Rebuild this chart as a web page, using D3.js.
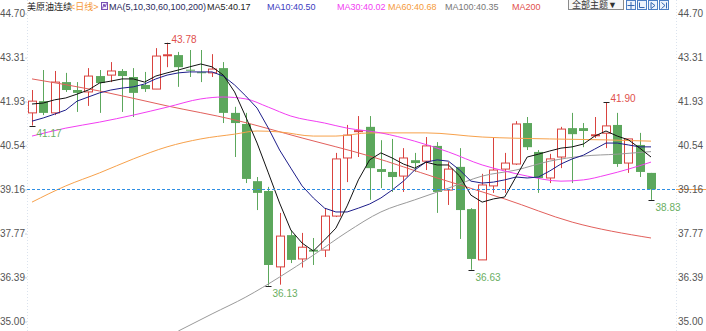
<!DOCTYPE html>
<html>
<head>
<meta charset="utf-8">
<script src="https://cdn.jsdelivr.net/npm/d3@7"></script>
<style>
  body { margin: 0; background: #fff; }
  svg { display: block; font-family: "Liberation Sans", "Noto Sans CJK SC", sans-serif; }
</style>
</head>
<body>
<svg id="chart" width="706" height="331"></svg>
<script>
const SVG = d3.select("#chart");
const WIDTH = 706;
const HEIGHT = 331;
const PLOT = { left: 27, right: 676, top: 0, bottom: 331 };

// candle values, one per session
const OPEN = [41.57, 41.94, 41.57, 42.54, 42.29, 42.23, 42.73, 42.76, 42.89, 42.70, 42.45, 42.32, 43.38, 43.39, 42.93, 42.85, 42.83, 42.98, 41.57, 41.22, 39.42, 39.11, 36.72, 37.72, 36.97, 37.26, 37.25, 38.32, 40.15, 40.99, 41.13, 39.80, 39.71, 39.58, 40.08, 40.05, 40.53, 39.14, 39.87, 38.54, 36.94, 39.27, 39.80, 39.96, 41.25, 40.34, 39.52, 40.18, 41.09, 41.09, 40.86, 40.93, 41.19, 39.99, 40.56, 39.68];
const HIGH = [42.29, 42.92, 42.89, 42.83, 42.54, 42.98, 42.92, 43.17, 42.95, 42.98, 42.86, 43.61, 43.78, 43.49, 43.55, 43.55, 43.42, 43.17, 41.76, 41.57, 39.55, 39.24, 38.42, 37.88, 37.79, 37.63, 38.57, 40.31, 41.19, 41.47, 41.47, 40.71, 40.75, 40.46, 40.31, 40.81, 40.65, 40.02, 40.46, 38.57, 39.65, 40.81, 40.31, 41.31, 41.44, 40.40, 40.28, 41.13, 41.57, 41.25, 41.44, 41.90, 41.57, 40.75, 40.94, 39.68];
const LOW = [41.17, 41.50, 41.50, 42.23, 41.60, 41.79, 41.57, 42.54, 41.60, 41.44, 42.23, 42.32, 43.01, 42.39, 42.70, 42.54, 42.70, 41.25, 40.18, 39.36, 38.51, 36.13, 36.16, 36.84, 36.70, 36.78, 37.03, 38.29, 39.39, 40.18, 38.83, 39.20, 39.08, 39.08, 39.71, 39.77, 38.42, 38.67, 37.60, 36.63, 36.94, 39.05, 39.05, 39.93, 40.40, 39.05, 39.36, 39.83, 39.36, 40.49, 40.78, 40.46, 39.87, 39.68, 39.55, 38.83];
const CLOSE = [41.94, 41.57, 42.54, 42.29, 42.20, 42.73, 42.51, 42.89, 42.73, 42.20, 42.32, 43.36, 43.40, 43.01, 42.91, 42.83, 42.95, 41.57, 41.25, 39.49, 39.05, 36.78, 37.69, 36.94, 37.34, 37.20, 38.32, 40.12, 40.87, 41.01, 39.83, 39.71, 39.55, 40.15, 39.99, 40.53, 39.08, 39.80, 38.51, 36.97, 39.30, 39.77, 39.99, 41.22, 40.49, 39.52, 40.12, 41.06, 40.90, 41.00, 40.88, 41.16, 39.96, 40.75, 39.71, 39.16];

// moving averages
const MA5 = [41.85, 41.88, 41.98, 42.04, 42.16, 42.29, 42.51, 42.57, 42.64, 42.64, 42.54, 42.73, 42.83, 42.92, 43.02, 43.11, 43.02, 42.76, 42.23, 41.44, 40.62, 39.68, 38.73, 37.88, 37.47, 37.22, 37.57, 37.94, 38.64, 39.46, 40.09, 40.31, 40.15, 39.96, 39.83, 40.02, 39.93, 39.93, 39.58, 38.98, 38.76, 38.86, 38.92, 39.55, 40.18, 40.27, 40.37, 40.46, 40.50, 40.59, 40.84, 41.00, 40.84, 40.72, 40.46, 40.18];
const MA10 = [41.31, 41.41, 41.53, 41.66, 41.94, 42.07, 42.20, 42.29, 42.35, 42.39, 42.48, 42.64, 42.76, 42.83, 42.86, 42.86, 42.86, 42.73, 42.45, 42.10, 41.72, 41.09, 40.40, 39.83, 39.27, 38.89, 38.57, 38.45, 38.45, 38.57, 38.70, 38.89, 39.14, 39.42, 39.77, 40.02, 40.09, 40.05, 39.77, 39.42, 39.36, 39.39, 39.46, 39.55, 39.52, 39.55, 39.74, 39.96, 40.12, 40.24, 40.43, 40.62, 40.62, 40.56, 40.50, 40.50];
const MA30_IDX = [0, 3, 6, 9, 12, 15, 17, 19, 21, 23, 26, 28, 31, 34, 37, 40, 42, 44, 47, 49, 51, 53, 55];
const MA30 = [40.84, 41.09, 41.28, 41.50, 41.75, 42.01, 42.07, 42.01, 41.75, 41.47, 41.25, 41.09, 40.94, 40.68, 40.34, 39.93, 39.74, 39.58, 39.42, 39.46, 39.61, 39.80, 40.02];
const MA60_IDX = [0, 3, 6, 9, 12, 15, 18, 20, 22, 25, 27, 30, 35, 40, 46, 51, 55];
const MA60 = [38.76, 39.27, 39.68, 40.12, 40.50, 40.75, 40.90, 41.00, 40.97, 40.84, 40.84, 40.94, 40.94, 40.81, 40.75, 40.72, 40.68];
const MA100_IDX = [13, 16, 19, 22, 25, 28, 31, 34, 37, 40, 43, 46, 49, 52, 55];
const MA100 = [34.70, 35.24, 35.77, 36.40, 37.09, 37.82, 38.45, 38.83, 39.20, 39.58, 39.77, 40.05, 40.21, 40.27, 40.35];
const MA200_IDX = [0, 6, 12, 18, 24, 30, 36, 42, 48, 55];
const MA200 = [42.64, 42.26, 41.79, 41.35, 40.78, 40.21, 39.52, 38.86, 38.13, 37.63];

// legend read-outs as printed in the header
const MA_NAMES = ["MA5", "MA10", "MA30", "MA60", "MA100", "MA200"];
const MA_VALUES = [40.17, 40.50, 40.02, 40.68, 40.35, null];

const Y_TICKS = [44.70, 43.31, 41.93, 40.54, 39.16, 37.77, 36.39, 35.00];
const HIGH_MARKS = [12, 51];
const LOW_MARKS = [0, 21, 39, 55];
const LAST = CLOSE[CLOSE.length - 1];

const RED = "#d9433f";
const GREEN = "#5ca75c";

const SCALE_X = d3.scaleLinear().domain([0, OPEN.length - 1]).range([32, 651]);
const SCALE_Y = d3.scaleLinear().domain([35, 44.70]).range([321.5, 13.5]);
const px = v => Math.round(v) + 0.5;

SVG.append("rect").attr("width", WIDTH).attr("height", HEIGHT).attr("fill", "#fff");

SVG.append("defs").append("clipPath").attr("id", "plot")
  .append("rect")
  .attr("x", PLOT.left).attr("y", PLOT.top)
  .attr("width", PLOT.right - PLOT.left).attr("height", PLOT.bottom - PLOT.top);

// frame lines
[PLOT.left, PLOT.right].forEach(x => {
  SVG.append("line")
    .attr("x1", x + 0.5).attr("x2", x + 0.5)
    .attr("y1", 0).attr("y2", HEIGHT)
    .attr("stroke", "#dbe3ee")
    .attr("stroke-dasharray", "1,2");
});

// axes
const LEFT_AXIS = SVG.append("g")
  .attr("transform", `translate(${PLOT.left},0)`)
  .call(d3.axisLeft(SCALE_Y).tickValues(Y_TICKS).tickSize(2).tickPadding(1).tickFormat(d3.format(".2f")));
const RIGHT_AXIS = SVG.append("g")
  .attr("transform", `translate(${PLOT.right},0)`)
  .call(d3.axisRight(SCALE_Y).tickValues(Y_TICKS).tickSize(0).tickPadding(2).tickFormat(d3.format(".2f")));
[LEFT_AXIS, RIGHT_AXIS].forEach(a => {
  a.select(".domain").remove();
  a.selectAll("line").attr("stroke", "#c8d2de");
  a.selectAll("text").attr("fill", "#555").attr("font-size", 10);
});
LEFT_AXIS.selectAll("text").attr("x", -2);

// orange marker behind the right price label
SVG.append("line")
  .attr("x1", PLOT.right).attr("x2", WIDTH)
  .attr("y1", px(SCALE_Y(LAST))).attr("y2", px(SCALE_Y(LAST)))
  .attr("stroke", "#f5a04a");
RIGHT_AXIS.raise();

// candles
const CANDLES = d3.range(OPEN.length).map(i => ({
  i, o: OPEN[i], h: HIGH[i], l: LOW[i], c: CLOSE[i], up: CLOSE[i] >= OPEN[i]
}));

const G_CANDLE = SVG.append("g").attr("clip-path", "url(#plot)");
const CANDLE = G_CANDLE.selectAll("g.candle").data(CANDLES).enter().append("g");

CANDLE.append("line")
  .attr("x1", d => px(SCALE_X(d.i))).attr("x2", d => px(SCALE_X(d.i)))
  .attr("y1", d => SCALE_Y(d.h)).attr("y2", d => SCALE_Y(d.l))
  .attr("stroke", d => d.up ? RED : GREEN);

CANDLE.append("rect")
  .attr("x", d => Math.round(SCALE_X(d.i)) - 4 + (d.up ? 0.5 : 0))
  .attr("width", d => d.up ? 8 : 9)
  .attr("y", d => SCALE_Y(Math.max(d.o, d.c)))
  .attr("height", d => Math.max(1, SCALE_Y(Math.min(d.o, d.c)) - SCALE_Y(Math.max(d.o, d.c))))
  .attr("fill", d => d.up ? "#fff" : GREEN)
  .attr("stroke", d => d.up ? RED : "none");

// moving average lines
const LINE = d3.line().x(d => SCALE_X(d[0])).y(d => SCALE_Y(d[1]));
const SMOOTH = d3.line().x(d => SCALE_X(d[0])).y(d => SCALE_Y(d[1])).curve(d3.curveMonotoneX);

const SERIES = [
  { pts: MA200.map((v, k) => [MA200_IDX[k], v]), color: "#e2605c", gen: SMOOTH },
  { pts: MA100.map((v, k) => [MA100_IDX[k], v]), color: "#9a9a9a", gen: SMOOTH },
  { pts: MA60.map((v, k) => [MA60_IDX[k], v]), color: "#f7a14b", gen: SMOOTH },
  { pts: MA30.map((v, k) => [MA30_IDX[k], v]), color: "#f23ef2", gen: SMOOTH },
  { pts: MA10.map((v, k) => [k, v]), color: "#1d1d8a", gen: LINE },
  { pts: MA5.map((v, k) => [k, v]), color: "#111", gen: LINE }
];

const G_MA = SVG.append("g").attr("clip-path", "url(#plot)");
SERIES.forEach(s => {
  G_MA.append("path")
    .datum(s.pts)
    .attr("fill", "none")
    .attr("stroke", s.color)
    .attr("stroke-width", 1)
    .attr("d", s.gen);
});

// last price line
SVG.append("line")
  .attr("x1", PLOT.left).attr("x2", PLOT.right)
  .attr("y1", px(SCALE_Y(LAST))).attr("y2", px(SCALE_Y(LAST)))
  .attr("stroke", "#2f8fe4")
  .attr("stroke-dasharray", "3,2");

// high / low marks
HIGH_MARKS.forEach(i => {
  const x = px(SCALE_X(i)), y = Math.round(SCALE_Y(HIGH[i])) + 0.5;
  SVG.append("line").attr("x1", x - 3).attr("x2", x + 3).attr("y1", y).attr("y2", y).attr("stroke", "#222");
  SVG.append("text").attr("x", x + 4).attr("y", y - 1)
    .attr("font-size", 10).attr("fill", "#e0504c").text(HIGH[i].toFixed(2));
});
LOW_MARKS.forEach(i => {
  const x = px(SCALE_X(i)), y = Math.round(SCALE_Y(LOW[i])) + 0.5;
  SVG.append("line").attr("x1", x - 3).attr("x2", x + 3).attr("y1", y).attr("y2", y).attr("stroke", "#222");
  SVG.append("text").attr("x", x + 4).attr("y", y + 10)
    .attr("font-size", 10).attr("fill", "#6aae62").text(LOW[i].toFixed(2));
});

// legend
const LEGEND_X = [207, 267, 337, 388, 445, 512];
const LEGEND_COLORS = ["#222", "#3b3bc0", "#f23ef2", "#f59a3a", "#777", "#e2504c"];
const LEGEND = [
  { x: 27, text: "美原油连续", color: "#222" },
  { x: 70, text: "<日线>", color: "#f59a3a" },
  { x: 109, text: "MA(5,10,30,60,100,200)", color: "#2a2a5a" }
].concat(MA_NAMES.map((n, k) => ({
  x: LEGEND_X[k],
  text: MA_VALUES[k] === null ? n : `${n}:${MA_VALUES[k].toFixed(2)}`,
  color: LEGEND_COLORS[k]
})));

SVG.selectAll("text.legend").data(LEGEND).enter().append("text")
  .attr("class", "legend")
  .attr("x", d => d.x).attr("y", 10)
  .attr("font-size", 9)
  .attr("fill", d => d.color)
  .text(d => d.text);

// small settings icon next to the MA legend
SVG.append("rect").attr("x", 101.5).attr("y", 2.5).attr("width", 6).attr("height", 7)
  .attr("fill", "#f4eefc").attr("stroke", "#7a4fb5");
SVG.append("path").attr("d", "M102.5,8.5 L104,4 L105,7 L106.5,3.5")
  .attr("fill", "none").attr("stroke", "#7a4fb5");

// top right controls
SVG.append("rect").attr("x", 568.5).attr("y", -0.5).attr("width", 55).attr("height", 10)
  .attr("fill", "#f7f7f7").attr("stroke", "#8a8a8a");
SVG.append("text").attr("x", 572).attr("y", 8).attr("font-size", 9).attr("fill", "#333").text("全部主题▼");
[626, 637, 648, 659].forEach((x, k) => {
  SVG.append("rect").attr("x", x + 0.5).attr("y", 0.5).attr("width", 9).attr("height", 9)
    .attr("fill", "#edf3fc").attr("stroke", "#4d7fc4");
  const glyph = [
    `M${x + 5},2 V9 M${x + 1.5},5.5 H${x + 8.5}`,
    `M${x + 2.5},2.5 V7.5 H${x + 7.5}`,
    `M${x + 3},2.5 L${x + 7},5.5 L${x + 3},8.5 Z`,
    `M${x + 2.5},2.5 L${x + 6},5.5 L${x + 2.5},8.5 M${x + 7.5},2.5 V8.5`
  ][k];
  SVG.append("path").attr("d", glyph).attr("fill", "none").attr("stroke", "#3567b0");
});
</script>
</body>
</html>
